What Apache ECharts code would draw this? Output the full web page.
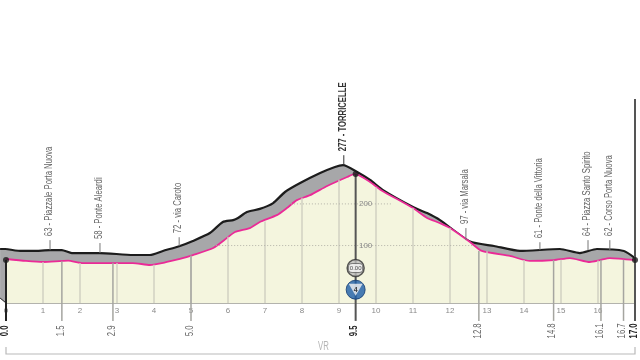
<!DOCTYPE html>
<html><head><meta charset="utf-8">
<style>html,body{margin:0;padding:0;background:#fff}#c{width:640px;height:360px}</style>
<script src="https://cdn.jsdelivr.net/npm/echarts@6/dist/echarts.min.js"></script>
</head><body><div id="c"></div>
<script>
// Road profile (km, metres)
const roadKm   = [0,0.54,1,1.68,2.05,2.81,3.43,3.89,4.35,4.7,5.05,5.6,5.97,6.19,6.59,6.86,7.32,7.59,7.86,8.22,8.68,9.22,9.43,9.84,10.14,11,11.38,11.73,12,12.54,12.86,13.62,14.16,14.81,15.24,15.78,16.05,16.32,17];
const roadElev = [67.7,63,60.5,63.6,58,58,58,53.3,60.5,67.7,77,94,118,132.5,142,156.5,173,190,209,221,243,264.6,272,252.6,233,190,166,154,142,108.5,87,75,63,65,70,60.5,65,70,65];
// Upper edge of the grey band
const topKm    = [0,0.38,0.73,1.19,1.51,1.78,2.54,3.43,3.89,4.24,4.7,5.05,5.51,5.86,6.14,6.27,6.51,6.86,7.22,7.54,7.95,8.49,8.89,9.11,9.49,9.84,10.19,11,11.38,11.73,12.54,13.19,13.89,14.97,15.51,15.97,16.7,17];
const topElev  = [91.7,87,87,89,89,82,82,77.3,77.3,87,99,111,130,156.5,161,166,180.5,188,202,228.6,250,274,288.6,293,276.6,257.4,233,192.5,178,161,109.5,99,87,91.7,82,91.7,87,70];
// Start wedge left of km 0
const wedgeKm = [-0.16,0];
const wedgeTop = [91.7,91.7];
const wedgeBottom = [-26,-38];
// Kilometre grid lines
const kmTicks  = [1,2,3,4,5,6,7,8,9,10,11,12,13,14,15,16];
const kmTops   = [60.5,58,58,54,75,121,158,215,258,240,190,142,86,65,66,64];
// Milestones below the axis
const mileKm    = [0,1.51,2.89,5,9.45,12.78,14.8,16.08,16.69,17];
const mileLabel = ['0.0','1.5','2.9','5.0','9.5','12.8','14.8','16.1','16.7','17.0'];
const mileTop   = [65,62,58,76,272,87,65,65,66,65];
const mileBold  = [1,0,0,0,1,0,0,0,0,1];
// Place names over the profile
const placeKm   = [1.19,2.54,4.68,9.13,12.43,14.43,15.73,16.32];
const placeName = ['63 - Piazzale Porta Nuova','58 - Ponte Aleardi','72 - via Caroto','277 - TORRICELLE','97 - via Marsala','61 - Ponte della Vittoria','64 - Piazza Santo Spirito','62 - Corso Porta Nuova'];
const placeFoot = [89,82,99,293,113,89,89,89];
const placeHead = [113,106,120,317,142,108,113,113];
// Elevation guides
const guideElev = [100,200];
const guideFrom = [5.6,7.7];
const guideTo   = [12.6,10.4];
const guideKmLabel = 9.72;
// Events on km 9.5
const eventKm = 9.45;
const watchElev = 46;
const gpmElev = -6;
const dotKm = [0,9.45,17];
const dotElev = [65,272,65];
const province = 'VR';
const ELEV_MIN = -38, ELEV_MAX = 500;
const FONT = '"Liberation Sans",sans-serif';
const NARROW = 0.77;
const zip = (a,b)=>a.map((v,i)=>[v,b[i]]);

const vlines = (data,color,width,z)=>({
  type:'custom',clip:false,silent:true,z,
  coordinateSystem:'cartesian2d',
  data,
  encode:{x:0,y:1},
  renderItem(p,api){
    const a=api.coord([api.value(0),api.value(1)]), b=api.coord([api.value(0),api.value(2)]);
    return {type:'line',shape:{x1:a[0],y1:a[1],x2:b[0],y2:b[1]},style:{stroke:color,lineWidth:width}};
  }
});

const chart = echarts.init(document.getElementById('c'));
chart.setOption({
  animation:false,backgroundColor:'#fff',
  grid:{left:6,width:629,top:79,height:224},
  xAxis:{type:'value',min:0,max:17,interval:1,splitLine:{show:false},
    axisLine:{lineStyle:{color:'#9a9a92',width:1.5},onZero:false},axisTick:{show:false},
    axisLabel:{margin:4,fontSize:8,color:'#8a8a8a',fontFamily:FONT,hideOverlap:false,
      showMinLabel:true,showMaxLabel:false,formatter:v=>String(v)}},
  yAxis:{type:'value',min:ELEV_MIN,max:ELEV_MAX,show:false},
  series:[
    {type:'custom',clip:false,silent:true,z:2,coordinateSystem:'cartesian2d',data:[[0,0]],encode:{x:0,y:1},
      renderItem(p,api){
        const t0=api.coord([wedgeKm[0],wedgeTop[0]]),t1=api.coord([wedgeKm[1],wedgeTop[1]]);
        const b1=api.coord([wedgeKm[1],wedgeBottom[1]]),b0=api.coord([wedgeKm[0],wedgeBottom[0]]);
        return {type:'group',children:[
          {type:'polygon',shape:{points:[t0,t1,b1,b0]},style:{fill:'#a7a7a9'}},
          {type:'line',shape:{x1:t0[0],y1:t0[1],x2:t1[0],y2:t1[1]},style:{stroke:'#1c1c1c',lineWidth:2}},
          {type:'line',shape:{x1:b0[0],y1:b0[1],x2:b1[0],y2:b1[1]},style:{stroke:'#1c1c1c',lineWidth:1}}
        ]};
      }},
    {type:'line',data:zip(topKm,topElev),clip:false,symbol:'none',z:2,smooth:0.2,
      lineStyle:{color:'#1c1c1c',width:2.2},areaStyle:{color:'#a7a7a9',origin:'start',opacity:1}},
    {type:'line',data:zip(roadKm,roadElev),clip:false,symbol:'none',z:3,smooth:0.2,
      lineStyle:{color:'#ea2a97',width:1.8},areaStyle:{color:'#f4f5de',origin:'start',opacity:1}},
    vlines(kmTicks.map((k,i)=>[k,kmTops[i],ELEV_MIN]),'#cfcfc0',1.4,4),
    {type:'custom',clip:false,silent:true,z:4,coordinateSystem:'cartesian2d',
      data:guideElev.map((e,i)=>[guideFrom[i],e,guideTo[i]]),encode:{x:0,y:1},
      renderItem(p,api){
        const a=api.coord([api.value(0),api.value(1)]), b=api.coord([api.value(2),api.value(1)]), c=api.coord([guideKmLabel,api.value(1)]);
        return {type:'group',children:[
          {type:'line',shape:{x1:a[0],y1:a[1],x2:b[0],y2:b[1]},style:{stroke:'#b3b3a8',lineWidth:1,lineDash:[1,2]}},
          {type:'text',x:c[0],y:c[1],style:{text:String(api.value(1)),fill:'#8a8a8a',font:'8px '+FONT,align:'center',verticalAlign:'middle'}}
        ]};
      }},
    {type:'custom',clip:false,silent:true,z:5,coordinateSystem:'cartesian2d',
      data:mileKm.map((k,i)=>[k,mileTop[i],i]),encode:{x:0,y:1},
      renderItem(p,api){
        const i=api.value(2),bold=mileBold[i],k=api.value(0);
        const a=api.coord([k,api.value(1)]), b=api.coord([k,-81]), t=api.coord([k,-105]);
        const dark=bold||i===9;
        const kids=[];
        if(i!==9) kids.push({type:'line',shape:{x1:a[0],y1:a[1],x2:b[0],y2:b[1]},
          style:{stroke:i===0?'#222':(i===4?'#555':'#a5a5a0'),lineWidth:dark?2:1.5}});
        kids.push({type:'text',x:t[0]-1,y:t[1],rotation:Math.PI/2,scaleX:NARROW,
          style:{text:mileLabel[i],fill:dark?'#222':'#666',font:(bold?'bold ':'')+'10px '+FONT,align:'center',verticalAlign:'middle'}});
        return {type:'group',children:kids};
      }},
    vlines([[17,452,-81]],'#555',2,5),
    {type:'custom',clip:false,silent:true,z:5,coordinateSystem:'cartesian2d',
      data:placeKm.map((k,i)=>[k,placeFoot[i],placeHead[i],i]),encode:{x:0,y:1},
      renderItem(p,api){
        const i=api.value(3),k=api.value(0);
        const a=api.coord([k,api.value(1)]), b=api.coord([k,api.value(2)]);
        const bold=placeName[i].indexOf('TORRI')>=0;
        return {type:'group',children:[
          {type:'line',shape:{x1:a[0],y1:a[1],x2:b[0],y2:b[1]},style:{stroke:bold?'#333':'#777',lineWidth:1}},
          {type:'text',x:b[0]-1,y:b[1]-4,rotation:Math.PI/2,scaleX:NARROW,
           style:{text:placeName[i],fill:bold?'#333':'#666',font:(bold?'bold ':'')+'10px '+FONT,align:'left',verticalAlign:'middle'}}
        ]};
      }},
    {type:'scatter',clip:false,silent:true,z:6,symbol:'circle',symbolSize:6,data:zip(dotKm,dotElev),itemStyle:{color:'#1b1b1b'}},
    {type:'scatter',clip:false,silent:true,z:7,data:[[eventKm,watchElev]],symbol:'circle',symbolSize:17,
      itemStyle:{color:'#bdbdbd',borderColor:'#333',borderWidth:1.5}},
    {type:'scatter',clip:false,silent:true,z:8,data:[[eventKm,watchElev]],symbol:'roundRect',symbolSize:[14,9],
      itemStyle:{color:'#f6f6f6',borderColor:'#444',borderWidth:0.8},
      label:{show:true,position:'inside',formatter:'0.00',fontSize:6,color:'#222',fontFamily:FONT}},
    {type:'scatter',clip:false,silent:true,z:7,data:[[eventKm,gpmElev]],symbol:'circle',symbolSize:19,
      itemStyle:{color:'#1c5da6',borderColor:'#123a70',borderWidth:1}},
    {type:'scatter',clip:false,silent:true,z:8,data:[[eventKm,gpmElev]],symbol:'triangle',symbolRotate:180,symbolSize:[14,12],
      itemStyle:{color:'#f2f2f2'},
      label:{show:true,position:'inside',formatter:'4',fontSize:7,fontWeight:'bold',color:'#111',fontFamily:FONT}},
    {type:'custom',clip:false,silent:true,z:2,coordinateSystem:'cartesian2d',data:[[0,-160.5,17]],encode:{x:0,y:1},
      renderItem(p,api){
        const a=api.coord([api.value(0),api.value(1)]), b=api.coord([api.value(2),api.value(1)]);
        return {type:'polyline',shape:{points:[[a[0],a[1]-7],a,b,[b[0],b[1]-7]]},style:{stroke:'#b9b9b9',lineWidth:1.2,fill:null}};
      }},
    {type:'custom',clip:false,silent:true,z:5,coordinateSystem:'cartesian2d',data:[[8.58,-143]],encode:{x:0,y:1},
      renderItem(p,api){
        const c=api.coord([api.value(0),api.value(1)]);
        return {type:'text',x:c[0],y:c[1],scaleX:0.65,style:{text:province,fill:'#b5b5b5',font:'12px '+FONT,align:'center',verticalAlign:'middle'}};
      }}
  ]
});
</script></body></html>
